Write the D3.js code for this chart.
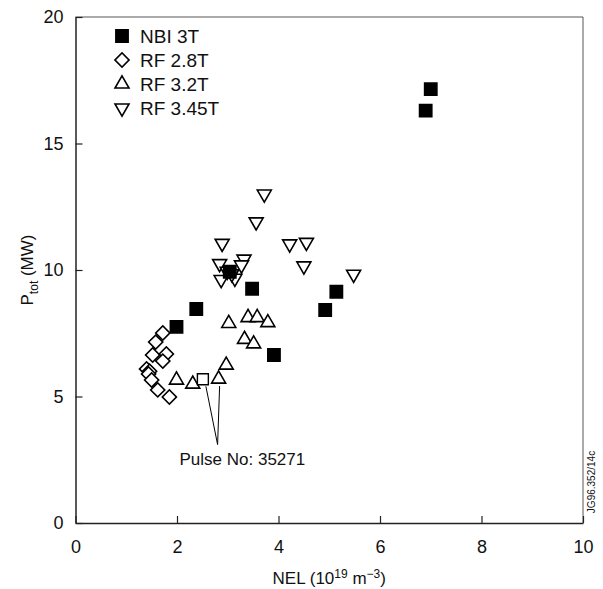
<!DOCTYPE html>
<html lang="en">
  <head>
    <meta charset="UTF-8" />
    <title>Ptot vs NEL</title>
    <script src="https://d3js.org/d3.v7.min.js"></script>
    <style>
      body {
        margin: 0;
        background: #fff;
      }
      svg text {
        font-family: "Liberation Sans", Arial, sans-serif;
        fill: #111;
      }
    </style>
  </head>
  <body>
    <svg id="chart" width="603" height="589"></svg>
    <script>
      // data (NEL in 1e19 m^-3, Ptot in MW)
      const nbi3T = [
        [1.99, 7.75], [2.38, 8.46], [3.04, 9.93], [3.48, 9.26],
        [3.91, 6.64], [4.92, 8.42], [5.14, 9.14], [6.9, 16.3], [7.0, 17.15]
      ];
      const rf28T = [
        [1.72, 7.51], [1.58, 7.15], [1.52, 6.64], [1.79, 6.68], [1.72, 6.4],
        [1.4, 6.09], [1.46, 6.0], [1.44, 5.89], [1.5, 5.65], [1.62, 5.26], [1.85, 4.98]
      ];
      const rf32T = [
        [3.02, 7.89], [3.4, 8.12], [3.58, 8.12], [3.79, 7.92], [3.33, 7.26],
        [3.51, 7.08], [2.97, 6.24], [1.99, 5.65], [2.31, 5.49], [2.82, 5.69]
      ];
      const rf345T = [
        [3.72, 13.0], [3.56, 11.9], [2.89, 11.05], [4.22, 11.03], [4.55, 11.09],
        [4.5, 10.16], [5.48, 9.83], [2.84, 10.25], [3.32, 10.43], [3.27, 10.2],
        [2.87, 9.62], [3.14, 9.67], [2.99, 9.95], [3.08, 9.85]
      ];
      const pulse35271 = [2.51, 5.68];
      const xTicks = [0, 2, 4, 6, 8, 10];
      const yTicks = [0, 5, 10, 15, 20];
      const legendLabels = ["NBI 3T", "RF 2.8T", "RF 3.2T", "RF 3.45T"];

      const svg = d3.select("#chart");
      const mLeft = 75.5, mRight = 583, mTop = 17, mBottom = 523;

      const x = d3.scaleLinear().domain([0, 10]).range([mLeft, mRight]);
      const y = d3.scaleLinear().domain([0, 20]).range([mBottom, mTop]);

      // top and right frame lines, lighter than the axes
      svg.append("path")
        .attr("d", `M${mLeft},${mTop}H${mRight}V${mBottom}`)
        .attr("fill", "none").attr("stroke", "#444").attr("stroke-width", 0.9);

      // axes with inward ticks
      const xAxis = svg.append("g")
        .attr("transform", `translate(0,${mBottom})`)
        .call(d3.axisBottom(x).tickValues(xTicks).tickSizeInner(-7).tickSizeOuter(0).tickPadding(17));
      const yAxis = svg.append("g")
        .attr("transform", `translate(${mLeft},0)`)
        .call(d3.axisLeft(y).tickValues(yTicks).tickSizeInner(-7).tickSizeOuter(0).tickPadding(12));
      [xAxis, yAxis].forEach((g) => {
        g.select(".domain").attr("stroke", "#222").attr("stroke-width", 1.5);
        g.selectAll(".tick line").attr("stroke", "#222").attr("stroke-width", 1.2);
        g.selectAll(".tick text").style("font-size", "18px").attr("fill", "#111");
      });

      // axis titles
      const xt = svg.append("text")
        .attr("x", (mLeft + mRight) / 2).attr("y", 584)
        .attr("text-anchor", "middle").style("font-size", "17px");
      xt.append("tspan").text("NEL (10");
      xt.append("tspan").attr("dy", -6).style("font-size", "12px").text("19");
      xt.append("tspan").attr("dy", 6).text(" m");
      xt.append("tspan").attr("dy", -6).style("font-size", "12px").text("\u22123");
      xt.append("tspan").attr("dy", 6).text(")");

      const yt = svg.append("text")
        .attr("transform", `translate(33,${(mTop + mBottom) / 2}) rotate(-90)`)
        .attr("text-anchor", "middle").style("font-size", "17px");
      yt.append("tspan").text("P");
      yt.append("tspan").attr("dy", 5).style("font-size", "12px").text("tot");
      yt.append("tspan").attr("dy", -5).text(" (MW)");

      // marker shapes
      const sq = d3.symbol().type(d3.symbolSquare).size(150)();
      const dia = d3.symbol().type(d3.symbolSquare).size(100)();
      const tri = d3.symbol().type(d3.symbolTriangle).size(85)();

      const groups = [
        { data: rf28T, path: dia, rot: 45, fill: "#fff" },
        { data: rf32T, path: tri, rot: 0, fill: "#fff" },
        { data: rf345T, path: tri, rot: 180, fill: "#fff" },
        { data: nbi3T, path: sq, rot: 0, fill: "#000" }
      ];
      groups.forEach((gr) => {
        svg.append("g").selectAll("path")
          .data(gr.data)
          .join("path")
          .attr("d", gr.path)
          .attr("transform", (d) => `translate(${x(d[0])},${y(d[1])}) rotate(${gr.rot})`)
          .attr("fill", gr.fill)
          .attr("stroke", "#000")
          .attr("stroke-width", 1.6);
      });

      // pulse annotation
      const px = x(pulse35271[0]), py = y(pulse35271[1]);
      svg.append("path")
        .attr("d", d3.symbol().type(d3.symbolSquare).size(120)())
        .attr("transform", `translate(${px},${py})`)
        .attr("fill", "#fff").attr("stroke", "#000").attr("stroke-width", 1.4);
      const tipX = x(2.8), tipY = y(3.1);
      const triPt = rf32T[9];
      svg.append("path")
        .attr("d", `M${px + 3},${py + 7}L${tipX},${tipY}L${x(triPt[0]) + 1},${y(triPt[1]) + 7}`)
        .attr("fill", "none").attr("stroke", "#000").attr("stroke-width", 1);
      svg.append("text")
        .attr("x", x(2.05)).attr("y", y(2.3))
        .style("font-size", "17px").text("Pulse No: 35271");

      // legend
      const legend = svg.append("g");
      const legendShapes = [groups[3], groups[0], groups[1], groups[2]];
      legendLabels.forEach((lab, i) => {
        const ly = 36 + i * 24;
        const s = legendShapes[i];
        legend.append("path")
          .attr("d", s.path)
          .attr("transform", `translate(122,${ly}) rotate(${s.rot})`)
          .attr("fill", s.fill).attr("stroke", "#000").attr("stroke-width", 1.6);
        legend.append("text")
          .attr("x", 140).attr("y", ly + 7)
          .style("font-size", "19px").text(lab);
      });

      // figure reference tag
      svg.append("text")
        .attr("transform", "translate(595,482) rotate(-90)")
        .attr("text-anchor", "middle")
        .style("font-size", "10px").text("JG96.352/14c");
    </script>
  </body>
</html>
